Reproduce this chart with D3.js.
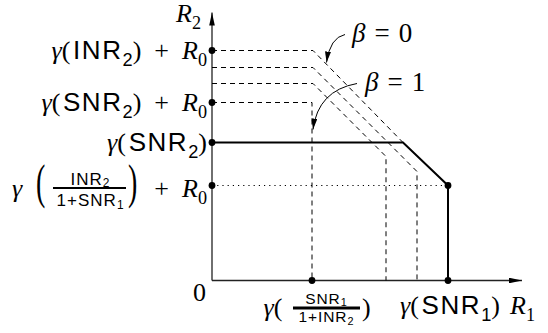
<!DOCTYPE html>
<html>
<head>
<meta charset="utf-8">
<script src="https://cdn.jsdelivr.net/npm/d3@7.9.0/dist/d3.min.js"></script>
<style>
  body { margin: 0; background: #fff; }
  svg { display: block; }
</style>
</head>
<body>
<svg id="chart" width="548" height="333"></svg>
<script>
// capacity region, in arbitrary rate units
const xMax = 31.0;
const yMax = 26.8;
const solidBoundary = [[0, 13.8], [19.1, 13.8], [23.6, 9.5], [23.6, 0]];
const dashedBoundaries = [
  [[0, 23.0], [10.1, 23.0], [19.1, 13.8]],
  [[0, 21.3], [10.1, 21.3], [20.5, 10.9], [20.5, 0]],
  [[0, 19.7], [10.1, 19.7], [17.4, 12.4], [17.4, 0]],
  [[0, 17.8], [10.0, 17.8], [10.0, 0]],
];
const dottedLevel = 9.5;
const yTickValues = [23.0, 17.8, 13.8, 9.5];
const xTickValues = [10.0, 23.6];
const cornerPoint = [23.6, 9.5];

// label pieces: [text, kind]  mi = math italic, rm = roman, sf = sans, sub* = subscript
const yTickLabels = [
  [["γ", "mi"], ["(", "rm"], ["INR", "sf"], ["2", "subsf"], [")", "rm"], ["\u2002+\u2002", "rm"], ["R", "mi"], ["0", "subrm"]],
  [["γ", "mi"], ["(", "rm"], ["SNR", "sf"], ["2", "subsf"], [")", "rm"], ["\u2002+\u2002", "rm"], ["R", "mi"], ["0", "subrm"]],
  [["γ", "mi"], ["(", "rm"], ["SNR", "sf"], ["2", "subsf"], [")", "rm"]],
];
const fracYNum = [["INR", "sf"], ["2", "subsf"]];
const fracYDen = [["1+SNR", "sf"], ["1", "subsf"]];
const fracXNum = [["SNR", "sf"], ["1", "subsf"]];
const fracXDen = [["1+INR", "sf"], ["2", "subsf"]];
const xEndLabel = [["γ", "mi"], ["(", "rm"], ["SNR", "sf"], ["1", "subsf"], [")", "rm"]];
const axisLabelX = [["R", "mi"], ["1", "subrm"]];
const axisLabelY = [["R", "mi"], ["2", "subrm"]];
const betaLabels = [
  { text: [["β", "mi"], ["\u2004=\u2004", "rm"], ["0", "rm"]], from: [13.3, 24.6], ctrl: [11.8, 24.3], to: [11.45, 21.8], at: [14.0, 23.85] },
  { text: [["β", "mi"], ["\u2004=\u2004", "rm"], ["1", "rm"]], from: [14.5, 19.7], ctrl: [10.6, 19.0], to: [10.1, 15.1], at: [15.3, 19.0] },
];

const SERIF = '"Liberation Serif", serif';
const SANS = '"Liberation Sans", sans-serif';

const svg = d3.select("#chart");
const x = d3.scaleLinear().domain([0, xMax]).range([212, 522]);
const y = d3.scaleLinear().domain([0, yMax]).range([280.5, 12.5]);

const defs = svg.append("defs");
function arrowMarker(id, len, half) {
  defs.append("marker")
    .attr("id", id)
    .attr("viewBox", `0 ${-half} ${len} ${2 * half}`)
    .attr("refX", len).attr("refY", 0)
    .attr("markerWidth", len).attr("markerHeight", 2 * half)
    .attr("markerUnits", "userSpaceOnUse")
    .attr("orient", "auto")
    .append("path")
    .attr("d", `M0,${-half}L${len},0L0,${half}Z`)
    .attr("fill", "#000");
}
arrowMarker("axisHead", 13, 2.8);
arrowMarker("noteHead", 11, 3);

// axes: library axes with no ticks, arrowheads added to the domain path
const xAxis = svg.append("g")
  .attr("transform", `translate(0,${y(0)})`)
  .call(d3.axisBottom(x).tickValues([]).tickSizeOuter(0));
const yAxis = svg.append("g")
  .attr("transform", `translate(${x(0)},0)`)
  .call(d3.axisLeft(y).tickValues([]).tickSizeOuter(0));
[xAxis, yAxis].forEach((g) => {
  g.select(".domain").attr("stroke", "#222").attr("stroke-width", 1.3);
});
xAxis.select(".domain").attr("d", `M${x(0)},0H${x(xMax)}`).attr("marker-end", "url(#axisHead)");
yAxis.select(".domain").attr("d", `M0,${y(0)}V${y(yMax)}`).attr("marker-end", "url(#axisHead)");

const line = d3.line().x((d) => x(d[0])).y((d) => y(d[1]));

svg.append("line")
  .attr("x1", x(0)).attr("x2", x(cornerPoint[0]))
  .attr("y1", y(dottedLevel)).attr("y2", y(dottedLevel))
  .attr("stroke", "#000").attr("stroke-width", 1)
  .attr("stroke-dasharray", "1.2,4");

svg.selectAll("path.dashed")
  .data(dashedBoundaries)
  .join("path")
  .attr("class", "dashed")
  .attr("d", line)
  .attr("fill", "none")
  .attr("stroke", "#000")
  .attr("stroke-width", 1)
  .attr("stroke-dasharray", "5,4");

svg.append("path")
  .attr("d", line(solidBoundary))
  .attr("fill", "none")
  .attr("stroke", "#000")
  .attr("stroke-width", 2);

const dots = yTickValues.map((v) => [0, v])
  .concat(xTickValues.map((v) => [v, 0]))
  .concat([cornerPoint]);
svg.selectAll("circle.pt")
  .data(dots)
  .join("circle")
  .attr("class", "pt")
  .attr("cx", (d) => x(d[0]))
  .attr("cy", (d) => y(d[1]))
  .attr("r", 3.4)
  .attr("fill", "#000");

// text helper: writes pieces as tspans inside one text element
function writeParts(px, py, parts, size, anchor, subDrop = 0.27) {
  const t = svg.append("text")
    .attr("x", px).attr("y", py)
    .attr("text-anchor", anchor || "start")
    .attr("font-size", size)
    .attr("fill", "#000")
    .style("white-space", "pre");
  let shift = 0;
  parts.forEach(([str, kind]) => {
    const isSub = kind.startsWith("sub");
    const base = kind.replace("sub", "");
    const target = isSub ? size * subDrop : 0;
    let spacing = 0;
    if (base === "sf" && !isSub) spacing = size * 0.06;
    if (str === "(") spacing = size * 0.1;
    t.append("tspan")
      .attr("dy", target - shift)
      .attr("font-family", base === "sf" ? SANS : SERIF)
      .attr("font-style", base === "mi" ? "italic" : "normal")
      .attr("font-size", isSub ? size * 0.7 : size)
      .attr("letter-spacing", spacing)
      .text(str);
    shift = target;
  });
  return t;
}

// tall parenthesis, stretched vertically
function bigParen(px, py, ch) {
  svg.append("text")
    .attr("transform", `translate(${px},${py}) scale(1,1.75)`)
    .attr("font-family", SERIF)
    .attr("font-size", 28)
    .text(ch);
}

const labelRight = x(0) - 5;
yTickLabels.forEach((parts, i) => {
  writeParts(labelRight, y(yTickValues[i]) + 8, parts, 26, "end");
});

// fraction label on the y axis
{
  const cy = y(yTickValues[3]);
  writeParts(labelRight, cy + 11, [["+\u2002", "rm"], ["R", "mi"], ["0", "subrm"]], 26, "end");
  writeParts(12, cy + 11, [["γ", "mi"]], 26, "start");
  bigParen(36, cy + 12, "(");
  bigParen(128, cy + 12, ")");
  svg.append("line").attr("x1", 53).attr("x2", 126)
    .attr("y1", cy + 2.5).attr("y2", cy + 2.5)
    .attr("stroke", "#000").attr("stroke-width", 2);
  writeParts(90, cy - 1, fracYNum, 17, "middle", 0.15);
  writeParts(90, cy + 20.5, fracYDen, 17, "middle", 0.2);
}

// fraction label on the x axis
{
  const cx = x(xTickValues[0]);
  const base = y(0);
  writeParts(cx - 27, base + 35, [["γ", "mi"], ["(", "rm"]], 26, "end");
  writeParts(cx + 50, base + 35, [[")", "rm"]], 26, "start");
  svg.append("line").attr("x1", cx - 19).attr("x2", cx + 48)
    .attr("y1", base + 27.5).attr("y2", base + 27.5)
    .attr("stroke", "#000").attr("stroke-width", 3);
  writeParts(cx + 14, base + 23.5, fracXNum, 15.5, "middle", 0.15);
  writeParts(cx + 14, base + 41, fracXDen, 15.5, "middle", 0.2);
}

writeParts(x(xTickValues[1]) + 2, y(0) + 33, xEndLabel, 26, "middle");
writeParts(x(0) - 19, y(0) + 20, [["0", "rm"]], 26, "start");
writeParts(510, y(0) + 33, axisLabelX, 26, "start");
writeParts(176, 22, axisLabelY, 26, "start");

// beta annotations
betaLabels.forEach((b) => {
  const p = d3.path();
  p.moveTo(x(b.from[0]), y(b.from[1]));
  p.quadraticCurveTo(x(b.ctrl[0]), y(b.ctrl[1]), x(b.to[0]), y(b.to[1]));
  svg.append("path")
    .attr("d", p.toString())
    .attr("fill", "none")
    .attr("stroke", "#000")
    .attr("stroke-width", 1)
    .attr("marker-end", "url(#noteHead)");
  writeParts(x(b.at[0]), y(b.at[1]), b.text, 27, "start");
});
</script>
</body>
</html>
